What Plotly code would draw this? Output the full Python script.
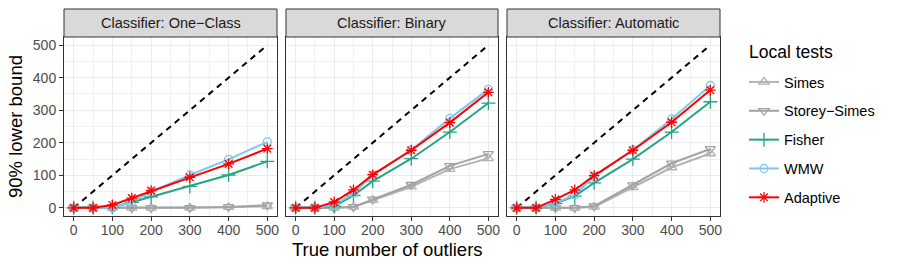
import plotly.graph_objects as go

W, H = 897, 269

x_vals = [0, 50, 100, 150, 200, 300, 400, 500]
panels = ["Classifier: One\u2212Class", "Classifier: Binary", "Classifier: Automatic"]
methods = ["Simes", "Storey\u2212Simes", "Fisher", "WMW", "Adaptive"]

# values per panel, per method
one_class = {
    "Simes":        [0, 0, 0, 0, 0, 0, 2, 5],
    "Storey\u2212Simes": [0, 0, 0, 0, 0, 0, 3, 8],
    "Fisher":       [0, 0, 2, 17, 34, 66, 101, 143],
    "WMW":          [0, 0, 0, 18, 50, 101, 149, 203],
    "Adaptive":     [0, 0, 9, 30, 53, 94, 135, 182],
}
binary = {
    "Simes":        [0, 0, 0, 3, 24, 65, 119, 152],
    "Storey\u2212Simes": [0, 0, 0, 3, 26, 71, 129, 166],
    "Fisher":       [0, 0, 5, 38, 82, 151, 233, 322],
    "WMW":          [0, 0, 8, 45, 100, 178, 275, 364],
    "Adaptive":     [0, 0, 18, 55, 102, 177, 262, 355],
}
automatic = {
    "Simes":        [0, 0, 0, 0, 3, 63, 124, 167],
    "Storey\u2212Simes": [0, 0, 0, 0, 5, 70, 137, 181],
    "Fisher":       [0, 0, 13, 36, 77, 150, 233, 326],
    "WMW":          [0, 0, 15, 40, 96, 178, 273, 376],
    "Adaptive":     [0, 0, 26, 55, 99, 177, 263, 362],
}
panel_data = [one_class, binary, automatic]
diag = [0, 500]
ticks = [0, 100, 200, 300, 400, 500]

colors = {"Simes": "#B3B3B3", "Storey\u2212Simes": "#A3A3A3", "Fisher": "#26A484",
          "WMW": "#7EC8EE", "Adaptive": "#FF0000"}
symbols = {"Simes": "triangle-up-open", "Storey\u2212Simes": "triangle-down-open",
           "Fisher": "cross-thin-open", "WMW": "circle-open", "Adaptive": "asterisk-open"}
msize = {"Simes": 9, "Storey\u2212Simes": 9, "Fisher": 10, "WMW": 8, "Adaptive": 9}

# panel pixel geometry
px_x = [(64, 277), (286, 498), (507, 720)]
top, bot = 37, 216
strip_top = 9

fig = go.Figure()
layout = {}
for i, (x0, x1) in enumerate(px_x):
    k = "" if i == 0 else str(i + 1)
    xa = "xaxis" + k
    ya = "yaxis" + k
    layout[xa] = dict(domain=[x0 / W, x1 / W], range=[-25, 525], anchor="y" + k,
                      tickvals=ticks, ticks="outside", ticklen=4, tickcolor="#333333",
                      tickfont=dict(size=14, color="#4D4D4D"), ticklabelstandoff=-3,
                      showgrid=True, gridcolor="#EBEBEB", gridwidth=1.2,
                      minor=dict(tickvals=[50, 150, 250, 350, 450], showgrid=True,
                                 gridcolor="#F0F0F0", gridwidth=0.8, ticks=""),
                      zeroline=False, showline=True, linecolor="#333333", linewidth=1,
                      mirror=True, fixedrange=True, automargin=False)
    layout[ya] = dict(domain=[(H - bot) / H, (H - top) / H], range=[-25, 525], anchor="x" + k,
                      tickvals=ticks, ticks="outside" if i == 0 else "", ticklen=4,
                      tickcolor="#333333", showticklabels=(i == 0),
                      tickfont=dict(size=14, color="#4D4D4D"),
                      showgrid=True, gridcolor="#EBEBEB", gridwidth=1.2,
                      minor=dict(tickvals=[50, 150, 250, 350, 450], showgrid=True,
                                 gridcolor="#F0F0F0", gridwidth=0.8, ticks=""),
                      zeroline=False, showline=True, linecolor="#333333", linewidth=1,
                      mirror=True, fixedrange=True, automargin=False)
    # diagonal
    fig.add_trace(go.Scatter(x=diag, y=diag, mode="lines", xaxis="x" + k, yaxis="y" + k,
                             line=dict(color="black", width=2, dash="6px,5px"),
                             showlegend=False, hoverinfo="skip"))
    d = panel_data[i]
    for j, m in enumerate(methods):
        fig.add_trace(go.Scatter(
            x=x_vals, y=d[m], mode="lines+markers", name=m, xaxis="x" + k, yaxis="y" + k,
            line=dict(color=colors[m], width=2),
            marker=dict(symbol=symbols[m], size=msize[m], color=colors[m],
                        line=dict(color=colors[m], width=1.3)),
            showlegend=(i == 0), legendgroup=m))

shapes = []
annotations = []
for i, (x0, x1) in enumerate(px_x):
    shapes.append(dict(type="rect", xref="paper", yref="paper",
                       x0=x0 / W, x1=x1 / W, y0=(H - top) / H, y1=(H - strip_top) / H,
                       fillcolor="#D9D9D9", line=dict(color="#333333", width=1), layer="above"))
    annotations.append(dict(text=panels[i], xref="paper", yref="paper",
                            x=(x0 + x1) / 2 / W, y=(H - (top + strip_top) / 2) / H,
                            showarrow=False, xanchor="center", yanchor="middle",
                            font=dict(size=14.5, color="#1A1A1A")))
annotations.append(dict(text="True number of outliers", xref="paper", yref="paper",
                        x=387 / W, y=(H - 249) / H, showarrow=False,
                        xanchor="center", yanchor="middle", font=dict(size=18.5, color="black")))
annotations.append(dict(text="90% lower bound", xref="paper", yref="paper",
                        x=16 / W, y=(H - 127) / H, showarrow=False, textangle=-90,
                        xanchor="center", yanchor="middle", font=dict(size=18.5, color="black")))
annotations.append(dict(text="Local tests", xref="paper", yref="paper",
                        x=747 / W, y=(H - 52) / H, showarrow=False,
                        xanchor="left", yanchor="middle", font=dict(size=17.5, color="black")))

fig.update_layout(
    width=W, height=H, margin=dict(l=0, r=0, t=0, b=0),
    paper_bgcolor="white", plot_bgcolor="white",
    font=dict(family="Liberation Sans, Arial, sans-serif"),
    shapes=shapes, annotations=annotations,
    legend=dict(x=744 / W, y=(H - 66) / H, xanchor="left", yanchor="top",
                font=dict(size=14.5, color="black"), tracegroupgap=7,
                bgcolor="rgba(0,0,0,0)", itemwidth=30),
    showlegend=True,
    **layout,
)

fig.write_html("out.html", config={"displayModeBar": False},
               post_script="document.body.style.margin='0';document.body.style.overflow='hidden';")
